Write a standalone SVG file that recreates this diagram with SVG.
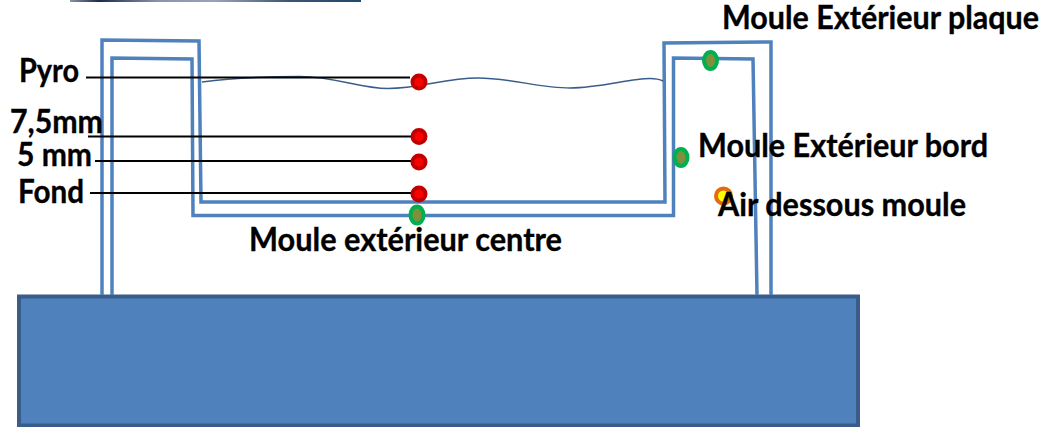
<svg xmlns="http://www.w3.org/2000/svg" width="1044" height="427" viewBox="0 0 1044 427">
<defs>
<linearGradient id="strip" x1="0" x2="1" y1="0" y2="0">
<stop offset="0" stop-color="#8a94a8"/><stop offset="0.1" stop-color="#1c2a4e"/><stop offset="0.3" stop-color="#8b93a8"/><stop offset="0.5" stop-color="#9aa4b8"/><stop offset="0.75" stop-color="#3d5474"/><stop offset="1" stop-color="#1f4a70"/>
</linearGradient>
</defs>
<style>
text{font-family:"Lato","Liberation Sans",sans-serif;font-weight:700;font-size:32px;fill:#000;stroke:#000;stroke-width:.35}
.wall{fill:none;stroke:#4f81bd;stroke-width:3.500}
.wave{fill:none;stroke:#385d8a;stroke-width:1.500}
.lead{stroke:#000;stroke-width:2.200;fill:none}
.red{fill:#ff0000;stroke:#c00000;stroke-width:4}
.green{fill:#7f903c;stroke:#00b050;stroke-width:4}
.air{fill:#ffff00;stroke:#e36c0a;stroke-width:4}
</style>
<rect x="70" y="0" width="291" height="2" fill="url(#strip)"/>
<g id="base"><rect x="19" y="296.500" width="839" height="129" fill="#4f81bd" stroke="#385d8a" stroke-width="4"/></g>
<g id="mould">
<path class="wall" d="M102 295V40L199 41L201 202H665L664 43L771 42V295"/>
<path class="wall" d="M112 295V58L192 59L193 215.500H673.500V58L753 59L757 295"/>
<path class="wave" d="M202 82C240 77 275 76.500 300 76.500C335 76.500 360 88.500 388 88.500C420 88.500 445 78 478 78C510 78 540 88 570 88C600 88 630 78.500 650 78.500C656 78.500 660 79.500 663 81"/>
</g>
<g id="connectors">
<line class="lead" x1="86" y1="77.500" x2="410" y2="77.500"/>
<line class="lead" x1="88" y1="136.500" x2="413" y2="136.500"/>
<line class="lead" x1="95" y1="161" x2="420" y2="161"/>
<line class="lead" x1="90" y1="193" x2="415" y2="193"/>
</g>
<g id="pyro"><ellipse class="red" cx="419" cy="82" rx="6.500" ry="6.500"/><text x="19" y="82" textLength="60" lengthAdjust="spacingAndGlyphs">Pyro</text></g>
<g id="p75"><ellipse class="red" cx="419" cy="136.500" rx="6.500" ry="6.500"/><text x="10" y="133" textLength="93" lengthAdjust="spacingAndGlyphs">7,5mm</text></g>
<g id="p5"><ellipse class="red" cx="419" cy="162" rx="6.500" ry="6.500"/><text x="17" y="166" textLength="75" lengthAdjust="spacingAndGlyphs">5 mm</text></g>
<g id="fond"><ellipse class="red" cx="419" cy="194" rx="6.500" ry="6.500"/><text x="18" y="203" textLength="66" lengthAdjust="spacingAndGlyphs">Fond</text></g>
<g id="centre"><ellipse class="green" cx="417" cy="215" rx="6.500" ry="8.500"/><text x="249" y="251" textLength="313" lengthAdjust="spacingAndGlyphs">Moule extérieur centre</text></g>
<g id="bord"><ellipse class="green" cx="681" cy="157.500" rx="6.500" ry="8.500"/><text x="698" y="157" textLength="290" lengthAdjust="spacingAndGlyphs">Moule Extérieur bord</text></g>
<g id="plaque"><ellipse class="green" cx="710.500" cy="60.500" rx="6.500" ry="8.500"/><text x="722" y="29" textLength="317" lengthAdjust="spacingAndGlyphs">Moule Extérieur plaque</text></g>
<g id="air"><circle class="air" cx="723.500" cy="196" r="7.500"/><text x="718" y="216" textLength="248" lengthAdjust="spacingAndGlyphs">Air dessous moule</text></g>
</svg>
